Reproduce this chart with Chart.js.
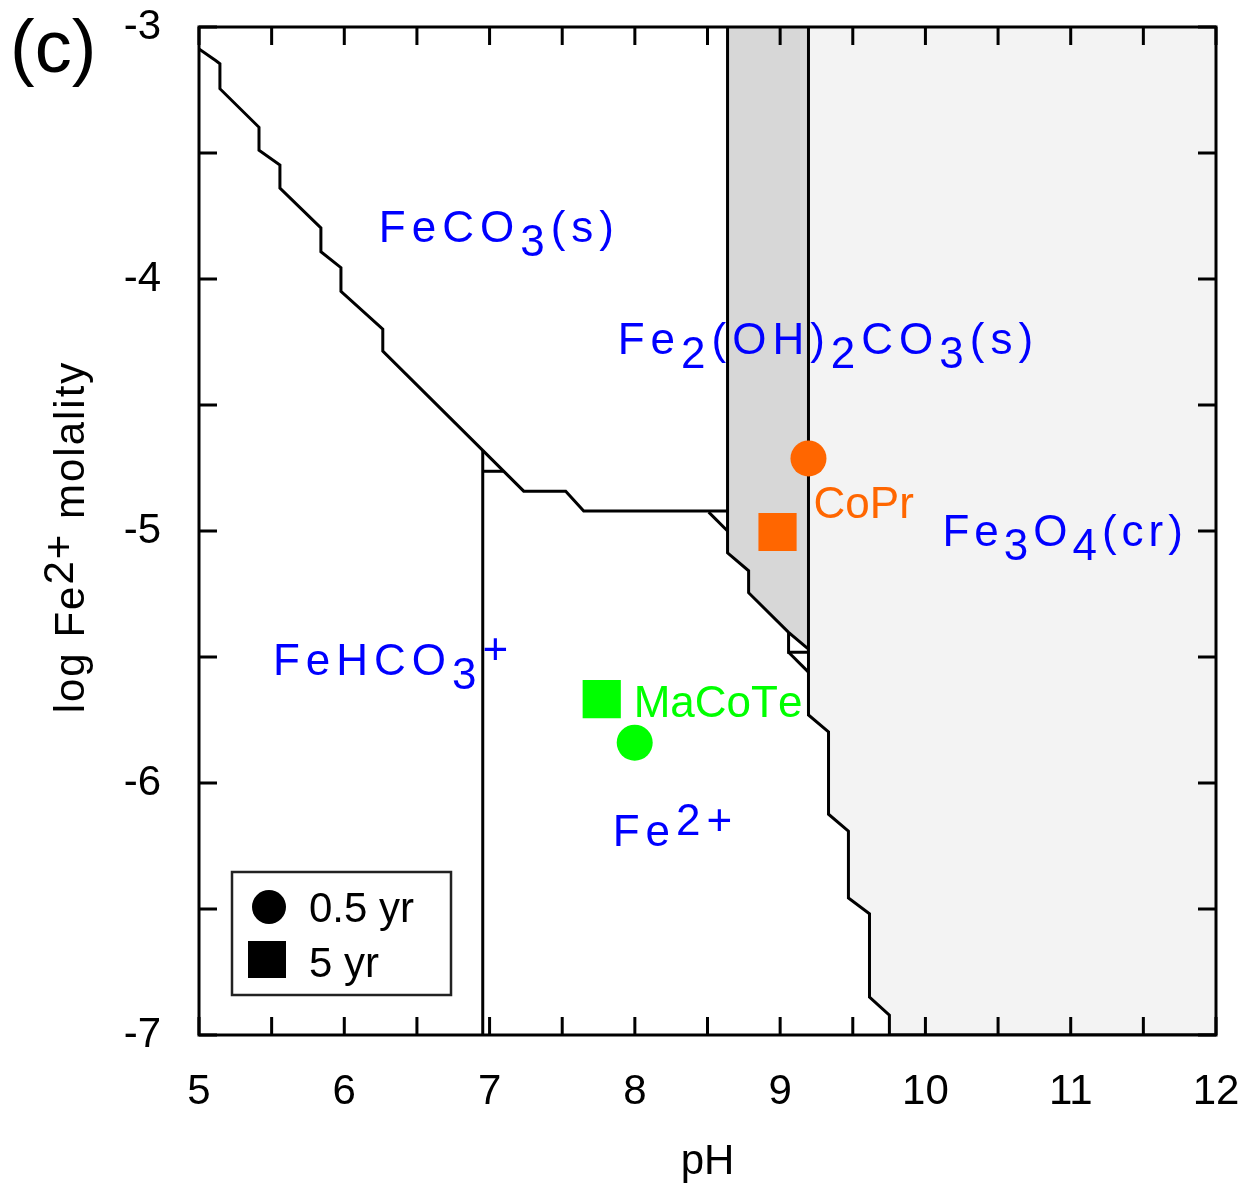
<!DOCTYPE html>
<html>
<head>
<meta charset="utf-8">
<script src="https://cdn.jsdelivr.net/npm/chart.js@4.4.0/dist/chart.umd.min.js"></script>
<style>
  html, body { margin: 0; padding: 0; background: #fff; }
  #wrap { width: 1250px; height: 1189px; }
</style>
</head>
<body>
<div id="wrap"><canvas id="diagram"></canvas></div>
<script>
// field boundaries, pairs of [pH, log m(Fe2+)]
const feco3Boundary = [[5.0, -3.087], [5.117, -3.134], [5.144, -3.146], [5.144, -3.245], [5.413, -3.398],
  [5.413, -3.489], [5.557, -3.548], [5.557, -3.639], [5.839, -3.797], [5.839, -3.892], [5.977, -3.955],
  [5.977, -4.049], [6.265, -4.199], [6.265, -4.286], [6.953, -4.680], [7.235, -4.842], [7.524, -4.842],
  [7.648, -4.921], [8.638, -4.921]];
const fehco3Edge = [[6.953, -4.680], [6.953, -7.0]];
const fehco3Cap = [[6.953, -4.763], [7.098, -4.763]];
const hydroxyField = [[8.638, -3.0], [8.638, -5.087], [8.783, -5.158], [8.783, -5.245], [9.058, -5.402], [9.195, -5.469]];
const kinkA = [[8.508, -4.925], [8.638, -5.000]];
const kinkB = [[9.058, -5.402], [9.058, -5.481], [9.195, -5.481]];
const kinkC = [[9.058, -5.481], [9.195, -5.560]];
const magnetiteEdge = [[9.195, -3.0], [9.195, -5.730], [9.333, -5.797], [9.333, -6.124], [9.470, -6.191],
  [9.470, -6.456], [9.615, -6.519], [9.615, -6.850], [9.752, -6.921], [9.752, -7.0], [12.0, -7.0]];

// measured samples
const coprHalfYear = [[9.195, -4.712]];
const coprFiveYear = [[8.982, -5.004]];
const macoteHalfYear = [[7.999, -5.840]];
const macoteFiveYear = [[7.772, -5.667]];

// field names ("_" next char subscript, "^" next char superscript) and where they sit
const fieldNames = ['FeCO_3(s)', 'Fe_2(OH)_2CO_3(s)', 'Fe_3O_4(cr)', 'FeHCO_3^+', 'Fe^2^+'];
const fieldAt = [[6.238, -3.852], [7.882, -4.298], [10.117, -5.059], [5.509, -5.572], [7.847, -6.250]];
const siteNames = ['CoPr', 'MaCoTe'];
const siteAt = [[9.230, -4.949], [7.992, -5.738]];
const siteColors = ['#ff6600', '#00ff00'];

const xTicks = [5, 6, 7, 8, 9, 10, 11, 12];
const yTicks = [-7, -6, -5, -4, -3];

const FONT = "'Liberation Sans', Arial, Helvetica, sans-serif";
const toXY = pts => pts.map(([x, y]) => ({ x, y }));

function edge(pts, extra) {
  return Object.assign({
    type: 'line', data: toXY(pts), borderColor: '#000', borderWidth: 3,
    pointRadius: 0, fill: false, tension: 0
  }, extra || {});
}
function marker(pts, color, style) {
  return {
    type: 'line', data: toXY(pts), showLine: false, pointStyle: style,
    pointRadius: style === 'rect' ? 27 : 18, pointBackgroundColor: color,
    pointBorderWidth: 0, borderColor: color
  };
}

// draw text with sub/superscripts and letter spacing
function richText(ctx, str, x, y, size, spacing, measureOnly) {
  ctx.font = size + 'px ' + FONT;
  let cx = x;
  for (let i = 0; i < str.length; i++) {
    let ch = str[i], dy = 0;
    if (ch === '_') { ch = str[++i]; dy = 14; }
    else if (ch === '^') { ch = str[++i]; dy = -11; }
    if (!measureOnly) ctx.fillText(ch, cx, y + dy);
    cx += ctx.measureText(ch).width + spacing;
  }
  return cx - x - spacing;
}

const decorations = {
  id: 'decorations',
  beforeDatasetsDraw(chart) {
    const { ctx, scales: { x, y } } = chart;
    ctx.save();
    ctx.textBaseline = 'alphabetic';
    ctx.textAlign = 'left';
    ctx.fillStyle = '#0000ff';
    fieldNames.forEach((name, i) => {
      const sp = i === 2 ? 5 : 6;
      richText(ctx, name, x.getPixelForValue(fieldAt[i][0]), y.getPixelForValue(fieldAt[i][1]), 44, sp);
    });
    siteNames.forEach((name, i) => {
      ctx.fillStyle = siteColors[i];
      richText(ctx, name, x.getPixelForValue(siteAt[i][0]), y.getPixelForValue(siteAt[i][1]), 44, 0);
    });
    ctx.restore();
  },
  afterDatasetsDraw(chart) {
    const { ctx, chartArea: a, scales: { x, y } } = chart;
    ctx.save();
    ctx.strokeStyle = '#000';
    ctx.lineWidth = 3;
    ctx.beginPath();
    for (let v = 5; v <= 12.001; v += 0.5) {
      const px = x.getPixelForValue(v);
      ctx.moveTo(px, a.bottom); ctx.lineTo(px, a.bottom - 18);
      ctx.moveTo(px, a.top); ctx.lineTo(px, a.top + 18);
    }
    for (let v = -7; v <= -2.999; v += 0.5) {
      const py = y.getPixelForValue(v);
      ctx.moveTo(a.left, py); ctx.lineTo(a.left + 18, py);
      ctx.moveTo(a.right, py); ctx.lineTo(a.right - 18, py);
    }
    ctx.stroke();
    ctx.strokeRect(a.left, a.top, a.right - a.left, a.bottom - a.top);

    // legend box
    const lx = a.left + 33, ly = a.bottom - 163;
    ctx.fillStyle = '#fff';
    ctx.fillRect(lx, ly, 219, 123);
    ctx.lineWidth = 2.5;
    ctx.strokeStyle = '#222';
    ctx.strokeRect(lx, ly, 219, 123);
    ctx.fillStyle = '#000';
    ctx.beginPath();
    ctx.arc(lx + 37, ly + 35, 17, 0, Math.PI * 2);
    ctx.fill();
    ctx.fillRect(lx + 16, ly + 69, 38, 37);
    ctx.font = '42px ' + FONT;
    ctx.textBaseline = 'alphabetic';
    ctx.fillText('0.5 yr', lx + 77, ly + 50);
    ctx.fillText('5 yr', lx + 77, ly + 105);

    // y axis title
    ctx.save();
    ctx.translate(84, (a.top + a.bottom) / 2 + 7);
    ctx.rotate(-Math.PI / 2);
    const title = 'log Fe^2^+ molality';
    const w = richText(ctx, title, 0, 0, 42, 2, true);
    richText(ctx, title, -w / 2, 0, 42, 2);
    ctx.restore();

    // panel letter
    ctx.font = '74px ' + FONT;
    ctx.fillText('(c)', 10, 72);
    ctx.restore();
  }
};

new Chart(document.getElementById('diagram'), {
  type: 'line',
  data: {
    datasets: [
      marker(coprHalfYear, '#ff6600', 'circle'),
      marker(coprFiveYear, '#ff6600', 'rect'),
      marker(macoteHalfYear, '#00ff00', 'circle'),
      marker(macoteFiveYear, '#00ff00', 'rect'),
      edge(feco3Boundary),
      edge(fehco3Edge),
      edge(fehco3Cap),
      edge(kinkA),
      edge(kinkB),
      edge(kinkC),
      edge(hydroxyField, { fill: 'end', backgroundColor: '#d7d7d7' }),
      edge(magnetiteEdge, { fill: 'end', backgroundColor: '#f3f3f3' })
    ]
  },
  options: {
    responsive: true,
    maintainAspectRatio: false,
    devicePixelRatio: 1,
    animation: false,
    events: [],
    layout: { padding: { left: 0, top: 21, right: 34, bottom: 0 } },
    plugins: {
      legend: { display: false },
      tooltip: { enabled: false },
      filler: { drawTime: 'beforeDatasetsDraw' }
    },
    scales: {
      x: {
        type: 'linear', min: 5, max: 12,
        afterBuildTicks: s => { s.ticks = xTicks.map(v => ({ value: v })); },
        ticks: { color: '#000', padding: 24, maxRotation: 0, autoSkip: false, font: { family: FONT, size: 42 }, callback: v => String(v) },
        grid: { display: false },
        border: { display: false },
        title: { display: true, text: 'pH', color: '#000', font: { family: FONT, size: 42 }, padding: { top: 0, bottom: 1 } },
        afterFit: s => { s.height = 154; s.paddingLeft = 0; s.paddingRight = 0; }
      },
      y: {
        type: 'linear', min: -7, max: -3,
        afterBuildTicks: s => { s.ticks = yTicks.map(v => ({ value: v })); },
        ticks: { color: '#000', padding: 30, autoSkip: false, font: { family: FONT, size: 42 }, callback: v => String(v) },
        grid: { display: false },
        border: { display: false },
        afterFit: s => { s.width = 199; s.paddingTop = 0; s.paddingBottom = 0; }
      }
    }
  },
  plugins: [decorations]
});
</script>
</body>
</html>
